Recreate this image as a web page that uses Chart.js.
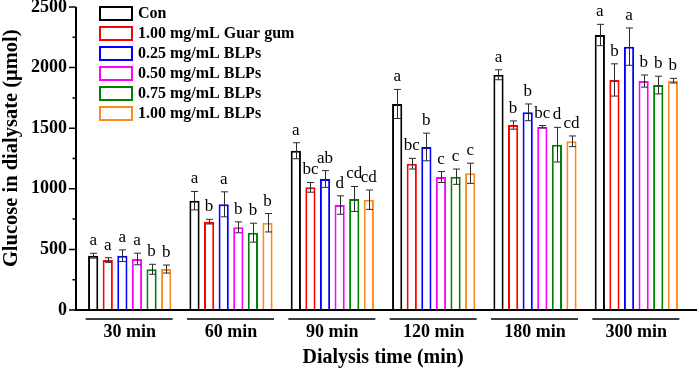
<!DOCTYPE html>
<html>
<head>
<meta charset="utf-8">
<script src="https://cdn.jsdelivr.net/npm/chart.js@4"></script>
<style>
  html, body { margin: 0; padding: 0; background: #ffffff; }
  #wrap { width: 699px; height: 370px; }
</style>
</head>
<body>
<div id="wrap"><canvas id="c" width="699" height="370"></canvas></div>
<script>
// ---- data ----
const categories = ['30 min', '60 min', '90 min', '120 min', '180 min', '300 min'];
const seriesNames = ['Con', '1.00 mg/mL Guar gum', '0.25 mg/mL BLPs', '0.50 mg/mL BLPs', '0.75 mg/mL BLPs', '1.00 mg/mL BLPs'];
const seriesColors = ['#000000', '#ff0000', '#0000ff', '#ff00ff', '#008000', '#ff8c1a'];

const conValues   = [448, 902, 1314, 1700, 1941, 2269];
const guarValues  = [412, 729, 1012, 1207, 1526, 1898];
const blp025Values = [448, 872, 1081, 1345, 1631, 2173];
const blp050Values = [421, 682, 866, 1097, 1512, 1889];
const blp075Values = [336, 638, 916, 1100, 1364, 1856];
const blp100Values = [338, 720, 910, 1128, 1392, 1892];

const conErrors    = [20, 76, 66, 120, 41, 88];
const guarErrors   = [19, 19, 40, 44, 34, 133];
const blp025Errors = [48, 103, 69, 114, 69, 154];
const blp050Errors = [48, 45, 76, 45, 10, 50];
const blp075Errors = [41, 78, 103, 63, 143, 73];
const blp100Errors = [33, 76, 80, 83, 44, 19];

const conLetters    = ['a', 'a', 'a', 'a', 'a', 'a'];
const guarLetters   = ['a', 'b', 'bc', 'bc', 'b', 'b'];
const blp025Letters = ['a', 'a', 'ab', 'b', 'b', 'a'];
const blp050Letters = ['a', 'b', 'd', 'c', 'bc', 'b'];
const blp075Letters = ['b', 'b', 'cd', 'c', 'd', 'b'];
const blp100Letters = ['b', 'b', 'cd', 'c', 'cd', 'b'];

const yTickValues = [0, 500, 1000, 1500, 2000, 2500];

const allValues  = [conValues, guarValues, blp025Values, blp050Values, blp075Values, blp100Values];
const allErrors  = [conErrors, guarErrors, blp025Errors, blp050Errors, blp075Errors, blp100Errors];
const allLetters = [conLetters, guarLetters, blp025Letters, blp050Letters, blp075Letters, blp100Letters];

const SERIF = "'Liberation Serif', 'Times New Roman', serif";

const datasets = seriesNames.map((name, i) => ({
  label: name,
  data: allValues[i],
  errors: allErrors[i],
  letters: allLetters[i],
  backgroundColor: '#ffffff',
  borderColor: seriesColors[i],
  borderWidth: 2,
  borderSkipped: 'start',
  categoryPercentage: 0.8645,
  barPercentage: 0.7
}));

const decorPlugin = {
  id: 'decor',
  afterDraw(chart) {
    const ctx = chart.ctx;
    const xs = chart.scales.x, ys = chart.scales.y;
    const y0 = ys.getPixelForValue(0);
    const yTop = ys.getPixelForValue(2500);
    ctx.save();
    // axes
    ctx.strokeStyle = '#000';
    ctx.lineWidth = 2;
    ctx.beginPath();
    ctx.moveTo(76, yTop);
    ctx.lineTo(76, y0);
    ctx.moveTo(75, y0);
    ctx.lineTo(697, y0);
    ctx.stroke();
    // y ticks (major + minor)
    ctx.lineWidth = 1.5;
    ctx.beginPath();
    yTickValues.forEach((v, k) => {
      const p = ys.getPixelForValue(v);
      ctx.moveTo(69, p); ctx.lineTo(76, p);
      if (k < yTickValues.length - 1) {
        const m = ys.getPixelForValue((v + yTickValues[k + 1]) / 2);
        ctx.moveTo(72.5, m); ctx.lineTo(76, m);
      }
    });
    ctx.stroke();
    // group underlines
    ctx.lineWidth = 1.5;
    ctx.beginPath();
    categories.forEach((c, i) => {
      const cx = xs.getPixelForValue(i);
      ctx.moveTo(cx - 44, 319); ctx.lineTo(cx + 43, 319);
    });
    ctx.stroke();
    // error bars and letters
    chart.data.datasets.forEach((ds, di) => {
      const meta = chart.getDatasetMeta(di);
      meta.data.forEach((bar, i) => {
        const v = ds.data[i], e = ds.errors[i];
        const hi = ys.getPixelForValue(v + e);
        const lo = ys.getPixelForValue(v - e);
        const x = Math.round(bar.x) + 0.5;
        ctx.strokeStyle = '#2a2a2a';
        ctx.lineWidth = 1;
        ctx.beginPath();
        ctx.moveTo(x, hi); ctx.lineTo(x, lo);
        ctx.moveTo(x - 3.5, hi); ctx.lineTo(x + 3.5, hi);
        ctx.moveTo(x - 3.5, lo); ctx.lineTo(x + 3.5, lo);
        ctx.stroke();
        ctx.fillStyle = '#000';
        ctx.font = '17px ' + SERIF;
        ctx.textAlign = 'center';
        ctx.textBaseline = 'alphabetic';
        ctx.fillText(ds.letters[i], bar.x, hi - 8);
      });
    });
    // legend
    chart.data.datasets.forEach((ds, di) => {
      const by = 7 + di * 20;
      ctx.fillStyle = '#ffffff';
      ctx.fillRect(100, by, 32, 13);
      ctx.strokeStyle = ds.borderColor;
      ctx.lineWidth = 2;
      ctx.strokeRect(100, by, 32, 13);
      ctx.fillStyle = '#000';
      ctx.font = 'bold 16px ' + SERIF;
      ctx.textAlign = 'left';
      ctx.textBaseline = 'middle';
      ctx.fillText(ds.label, 138, by + 7);
    });
    ctx.restore();
  }
};

new Chart(document.getElementById('c'), {
  type: 'bar',
  data: { labels: categories, datasets: datasets },
  options: {
    responsive: false,
    animation: false,
    layout: { padding: { left: 0, right: 12, top: 7, bottom: 0 } },
    plugins: { legend: { display: false }, tooltip: { enabled: false } },
    scales: {
      x: {
        grid: { display: false, drawTicks: false },
        border: { display: false },
        ticks: { color: '#000', padding: 12, font: { family: SERIF, size: 18, weight: 'bold' } },
        title: { display: true, text: 'Dialysis time (min)', color: '#000',
                 font: { family: SERIF, size: 20, weight: 'bold' }, padding: { top: 0, bottom: 0 } },
        afterFit(s) { s.height = 60; s.paddingLeft = 0; s.paddingRight = 0; }
      },
      y: {
        min: 0, max: 2500,
        afterBuildTicks(s) { s.ticks = yTickValues.map(v => ({ value: v })); },
        grid: { display: false, drawTicks: false },
        border: { display: false },
        ticks: { color: '#000', padding: 12, font: { family: SERIF, size: 18, weight: 'bold' },
                 callback: (v) => String(v) },
        title: { display: true, text: '\u00a0\u00a0\u00a0\u00a0Glucose in dialysate (μmol)', color: '#000',
                 font: { family: SERIF, size: 20.5, weight: 'bold' }, padding: { top: -1, bottom: 0 } },
        afterFit(s) { s.width = 79; s.paddingTop = 0; s.paddingBottom = 0; }
      }
    }
  },
  plugins: [decorPlugin]
});
</script>
</body>
</html>
